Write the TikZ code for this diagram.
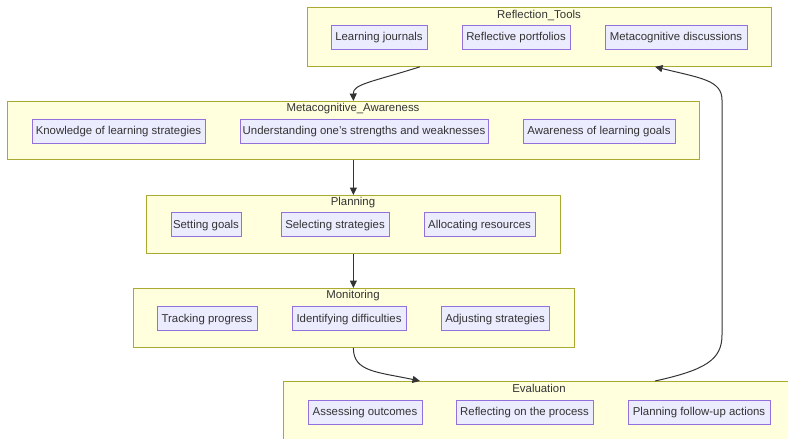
\documentclass[tikz,border=0pt]{standalone}
\usepackage{fontspec}
\setmainfont{Liberation Sans}
\usetikzlibrary{arrows.meta,calc}
\definecolor{clfill}{HTML}{FFFFDE}
\definecolor{cldraw}{HTML}{AAAA33}
\definecolor{itfill}{HTML}{ECECFF}
\definecolor{itdraw}{HTML}{9370DB}
\definecolor{ink}{HTML}{333333}
\begin{document}
\begin{tikzpicture}[x=1pt,y=-1pt,
  font=\fontsize{11.4}{13}\selectfont,
  cluster/.style={draw=cldraw,fill=clfill,line width=0.8pt,inner sep=0pt,anchor=north west},
  ctitle/.style={text=ink,inner sep=0pt,anchor=center,text height=0.72em,text depth=0pt},
  item/.style={draw=itdraw,fill=itfill,line width=0.8pt,text=ink,inner sep=0pt,minimum height=24pt,anchor=center,text height=0.72em,text depth=0pt},
  flow/.style={draw=ink,line width=1pt,-{Triangle[length=7.5pt,width=7pt]}}]
\useasboundingbox (0,0) rectangle (788,439);

% groups
\node[cluster,minimum width=464pt,minimum height=59pt] (rt) at (307,7) {};
\node[ctitle] at (539,14.5) {Reflection\_Tools};
\node[cluster,minimum width=692pt,minimum height=58pt] (ma) at (7,101) {};
\node[ctitle] at (353,107.5) {Metacognitive\_Awareness};
\node[cluster,minimum width=414pt,minimum height=58pt] (pl) at (146,195) {};
\node[ctitle] at (353,201.5) {Planning};
\node[cluster,minimum width=441pt,minimum height=59pt] (mo) at (133,288) {};
\node[ctitle] at (353,295) {Monitoring};
\node[cluster,minimum width=512pt,minimum height=70pt] (ev) at (283,381) {};
\node[ctitle] at (539,388.5) {Evaluation};

% items
\node[item,minimum width=96pt] (rt1) at (379,37) {Learning journals};
\node[item,minimum width=108pt] (rt2) at (516,37) {Reflective portfolios};
\node[item,minimum width=142pt] (rt3) at (676,37) {Metacognitive discussions};

\node[item,minimum width=173pt] (ma1) at (118.5,131) {Knowledge of learning strategies};
\node[item,minimum width=248pt] (ma2) at (364,131) {Understanding one's strengths and weaknesses};
\node[item,minimum width=152pt] (ma3) at (599,131) {Awareness of learning goals};

\node[item,minimum width=70pt] (pl1) at (206,224.5) {Setting goals};
\node[item,minimum width=108pt] (pl2) at (335,224.5) {Selecting strategies};
\node[item,minimum width=111pt] (pl3) at (479.5,224.5) {Allocating resources};

\node[item,minimum width=100pt] (mo1) at (207,318.5) {Tracking progress};
\node[item,minimum width=114pt] (mo2) at (349,318.5) {Identifying difficulties};
\node[item,minimum width=108pt] (mo3) at (495,318.5) {Adjusting strategies};

\node[item,minimum width=114pt] (ev1) at (365,412) {Assessing outcomes};
\node[item,minimum width=137pt] (ev2) at (524.5,412) {Reflecting on the process};
\node[item,minimum width=142pt] (ev3) at (699,412) {Planning follow-up actions};

% connectors
\coordinate (rtout) at ($(rt.south west)+(113,0)$);
\coordinate (rtin) at ($(rt.south west)+(348,0)$);
\coordinate (evin) at ($(ev.north west)+(137,0)$);
\coordinate (evout) at ($(ev.north west)+(372,0)$);

\draw[flow] (rtout) .. controls (372,82) and (353,84) .. (ma.north -| pl.north);
\draw[flow] (ma.south -| pl.north) -- (pl.north);
\draw[flow] (pl.south) -- (pl.south |- mo.north);
\draw[flow] (pl.south |- mo.south) .. controls (353,372) and (378,372) .. (evin);
\draw[flow] (evout) .. controls (705,370) and (722,360) .. (722,335)
  -- (722,100) .. controls (722,80) and (700,78) .. (rtin);
\end{tikzpicture}
\end{document}
